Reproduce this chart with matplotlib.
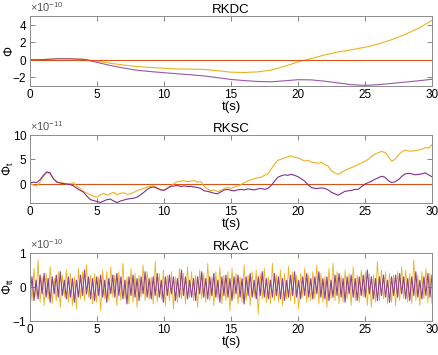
import matplotlib
matplotlib.use('Agg')
import matplotlib.pyplot as plt
import numpy as np
from matplotlib.ticker import ScalarFormatter

plt.rcParams['font.family'] = ['Liberation Sans', 'DejaVu Sans']
plt.rcParams['mathtext.fontset'] = 'custom'
plt.rcParams['mathtext.rm'] = 'Liberation Sans'
plt.rcParams['mathtext.it'] = 'Liberation Sans:italic'

yellow = '#EDB120'
purple = '#7E2F8E'
red = '#D95319'

# RKDC (units of 1e-10), sampled every 1 s
t_dc = list(range(0, 31))
dc_yellow = [0, 0.02, 0.1, 0.1, 0.05, -0.15, -0.4, -0.6, -0.78, -0.88, -0.97,
             -1.05, -1.07, -1.1, -1.25, -1.42, -1.46, -1.38, -1.18, -0.75, -0.25,
             0.15, 0.55, 0.9, 1.15, 1.43, 1.8, 2.3, 2.9, 3.6, 4.5]
dc_purple = [0, 0.02, 0.12, 0.12, 0.05, -0.3, -0.65, -0.95, -1.2, -1.35, -1.48,
             -1.6, -1.72, -1.85, -2.05, -2.25, -2.38, -2.48, -2.52, -2.4, -2.28,
             -2.3, -2.45, -2.65, -2.85, -2.92, -2.85, -2.7, -2.55, -2.4, -2.23]

# RKSC (units of 1e-11), sampled every 0.25 s
t_sc = [i * 0.25 for i in range(121)]
sc_yellow = [0, -0.3, -0.5, 0.3, 1.5, 2.3, 2.0, 1.0, 0.4, 0.2, 0.1, -0.1, 0, 0.2,
             -0.6, -1.0, -1.6, -2.0, -2.3, -2.6, -2.8, -2.3, -2.0, -2.4, -2.1, -1.8,
             -2.3, -2.0, -1.9, -2.2, -2.1, -1.8, -1.5, -1.2, -1.0, -0.7, -0.6, -0.5,
             -0.9, -1.2, -1.4, -0.9, -0.5, 0, 0.4, 0.5, 0.6, 0.4, 0.5, 0.6, 0.3, 0.4,
             -0.6, -1.1, -1.5, -1.3, -1.7, -1.4, -1.0, -0.8, -1.0, -0.7, -0.5, -0.2,
             0.2, 0.5, 0.8, 1.0, 1.2, 1.3, 1.7, 2.0, 3.0, 4.0, 4.8, 5.0, 5.3, 5.5,
             5.7, 5.4, 5.3, 5.0, 4.6, 4.8, 4.4, 4.3, 4.2, 4.4, 3.9, 3.6, 2.6, 2.2,
             1.9, 2.3, 2.7, 3.0, 3.3, 3.6, 3.9, 4.3, 4.6, 5.0, 5.6, 6.1, 6.4, 6.6,
             6.4, 5.5, 4.6, 5.0, 5.9, 6.5, 6.9, 6.7, 6.7, 6.8, 6.9, 7.1, 7.4, 7.3, 8.0]
sc_purple = [0.1, 0.3, 0.2, 0.8, 1.7, 2.4, 2.2, 1.0, 0.3, 0.1, 0, -0.1, -0.2, -0.5,
             -1.0, -1.4, -1.8, -2.6, -3.3, -3.5, -3.7, -3.9, -3.6, -3.3, -3.2, -3.6,
             -3.9, -3.6, -3.4, -3.2, -3.1, -3.0, -2.8, -2.3, -1.8, -1.2, -0.8, -0.7,
             -1.0, -1.3, -1.4, -1.0, -0.6, -0.5, -0.4, -0.6, -0.5, -0.6, -0.6, -0.7,
             -0.8, -1.0, -1.5, -1.6, -1.8, -2.0, -2.1, -1.7, -1.3, -1.2, -1.4, -1.5,
             -1.3, -1.2, -1.3, -1.1, -1.2, -1.3, -1.1, -1.0, -1.2, -1.0, -0.4, 0.5,
             1.3, 1.6, 1.8, 1.7, 1.9, 1.7, 1.4, 1.0, 0.5, -0.2, -0.8, -1.0, -1.0, -0.9,
             -1.0, -1.3, -1.8, -2.1, -2.4, -2.0, -1.6, -1.5, -1.4, -1.2, -1.2, -0.6,
             -0.1, 0.2, 0.5, 0.9, 1.2, 1.5, 1.3, 0.6, 0.2, 0.4, 0.8, 1.5, 2.0, 2.1,
             2.0, 1.8, 1.9, 2.0, 2.2, 1.8, 1.4]

# RKAC (units of 1e-12)
ac_yellow = [35, -40, 55, -30, 80, -45, 30, -55, 40, -35, 60, -50, 25, -40, 45, -60, 35, -30, 50, -45,
             40, -55, 30, -65, 55, -35, 45, -40, 65, -30, 35, -50, 40, -45, 30, -70, 50, -35, 45, -40,
             60, -30, 35, -55, 45, -40, 70, -35, 30, -50, 55, -45, 40, -60, 35, -30, 65, -40, 45, -35,
             30, -50, 75, -45, 40, -35, 50, -55, 35, -40, 45, -65, 30, -45, 55, -35, 40, -50, 60, -30,
             45, -40, 35, -60, 50, -35, 40, -45, 70, -40, 30, -55, 45, -35, 60, -50, 35, -40, 45, -70,
             55, -35, 40, -50, 30, -45, 65, -40, 35, -55, 45, -30, 50, -80, 40, -35, 55, -45, 30, -50,
             70, -40, 35, -45, 50, -55, 40, -35, 60, -40, 45, -50, 35, -65, 40, -30, 55, -45, 35, -40,
             45, -35, 65, -50, 40, -45, 30, -60, 55, -35, 70, -40, 45, -50, 35, -45, 50, -35, 40, -55,
             60, -40, 35, -45, 50, -30, 45, -55, 40, -60, 35, -45, 75, -40, 50, -35, 45, -50, 40, -45,
             35, -55, 45, -40, 60, -35, 50, -45, 40, -50, 80, -40, 35, -55, 45, -35, 55, -45, 40, -50]
ac_purple = [-25, 30, -40, 20, -35, 35, -20, 40, -30, 25, -45, 30, -20, 35, -30, 45, -25, 20, -35, 30,
             -30, 25, -45, 20, -30, 35, -25, 50, -20, 30, -35, 25, -40, 30, -25, 35, -30, 20, -45, 25,
             -20, 35, -30, 40, -25, 30, -35, 20, -50, 30, -25, 35, -30, 25, -40, 30, -20, 45, -30, 25,
             -35, 30, -25, 40, -30, 20, -45, 30, -25, 35, -20, 30, -40, 25, -30, 50, -25, 30, -35, 20,
             -30, 25, -40, 30, -20, 45, -30, 25, -35, 30, -25, 40, -30, 20, -45, 30, -25, 35, -30, 25,
             -40, 30, -20, 35, -30, 25, -50, 30, -25, 40, -30, 20, -35, 30, -25, 45, -30, 25, -35, 20,
             -30, 40, -25, 30, -35, 25, -40, 20, -30, 35, -25, 45, -30, 20, -35, 30, -25, 40, -30, 25,
             -35, 30, -20, 45, -30, 25, -35, 30, -40, 20, -30, 35, -25, 40, -30, 25, -45, 30, -20, 35,
             -30, 25, -40, 30, -25, 35, -30, 50, -20, 30, -35, 25, -40, 30, -25, 35, -30, 20, -45, 30,
             -25, 35, -30, 40, -20, 30, -35, 25, -40, 30, -25, 45, -30, 20, -35, 30, -25, 40, -30, 35]
t_ac = np.linspace(0, 30, len(ac_yellow))

fig = plt.figure(figsize=(4.39, 3.55), dpi=100)
ax1 = fig.add_axes([0.0683, 0.7577, 0.9157, 0.1972])
ax2 = fig.add_axes([0.0683, 0.4282, 0.9157, 0.1915])
ax3 = fig.add_axes([0.0683, 0.0958, 0.9157, 0.1915])


def style(ax, title, ylabel, ylim, yticks, power):
    ax.set_xlim(0, 30)
    ax.set_ylim(ylim)
    ax.set_yticks(yticks)
    ax.set_xticks([0, 5, 10, 15, 20, 25, 30])
    ax.tick_params(direction='in', length=3.5, width=0.6, color='0.45',
                   top=True, right=True, labelsize=8.5, pad=2)
    for s in ax.spines.values():
        s.set_color('0.55')
        s.set_linewidth(0.7)
    fmt = ScalarFormatter(useMathText=True)
    fmt.set_powerlimits((power, power))
    ax.yaxis.set_major_formatter(fmt)
    ax.yaxis.get_offset_text().set_fontsize(8)
    ax.yaxis.get_offset_text().set_color('0.35')
    ax.set_title(title, fontsize=9.5, pad=2)
    ax.set_xlabel('t(s)', fontsize=9.5, labelpad=0)
    ax.set_ylabel(ylabel, fontsize=9)
    ax.yaxis.set_label_coords(-0.036, 0.5)


ax1.plot(t_dc, np.array(dc_yellow) * 1e-10, color=yellow, lw=0.8)
ax1.plot(t_dc, np.array(dc_purple) * 1e-10, color=purple, lw=0.8, alpha=0.8)
ax1.axhline(0, color=red, lw=0.8)
style(ax1, 'RKDC', r'$\Phi$', (-3e-10, 5e-10), [-2e-10, 0, 2e-10, 4e-10], -10)

ax2.axhline(0, color=red, lw=0.8)
ax2.plot(t_sc, np.array(sc_yellow) * 1e-11, color=yellow, lw=0.8)
ax2.plot(t_sc, np.array(sc_purple) * 1e-11, color=purple, lw=0.8)
style(ax2, 'RKSC', r'$\Phi_{\mathrm{t}}$', (-4e-11, 10e-11), [0, 5e-11, 10e-11], -11)

ax3.plot(t_ac, np.array(ac_yellow) * 1e-12, color=yellow, lw=0.6)
ax3.plot(t_ac, np.array(ac_purple) * 1e-12, color=purple, lw=0.8, alpha=0.9)
style(ax3, 'RKAC', r'$\Phi_{\mathrm{tt}}$', (-1e-10, 1e-10), [-1e-10, 0, 1e-10], -10)

fig.savefig('out.png', dpi=100)
